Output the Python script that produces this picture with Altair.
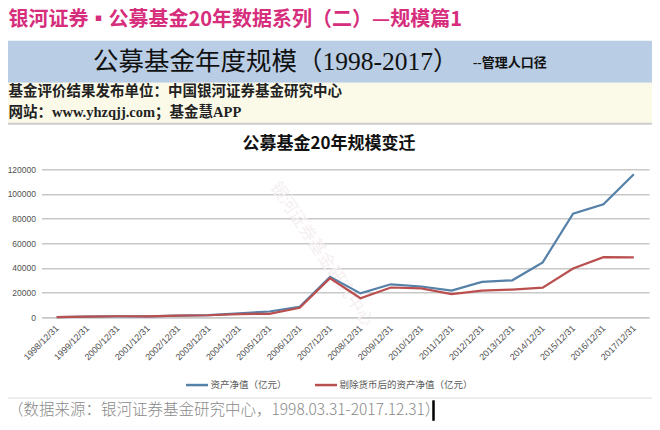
import altair as alt
import pandas as pd

# ---- data (亿元) ----
dates = ["1998/12/31", "1999/12/31", "2000/12/31", "2001/12/31", "2002/12/31",
         "2003/12/31", "2004/12/31", "2005/12/31", "2006/12/31", "2007/12/31",
         "2008/12/31", "2009/12/31", "2010/12/31", "2011/12/31", "2012/12/31",
         "2013/12/31", "2014/12/31", "2015/12/31", "2016/12/31", "2017/12/31"]
nav = [104, 574, 846, 818, 1330, 1715, 3246, 4691, 8565, 32756,
       19389, 26767, 24972, 21680, 28661, 29994, 44521, 83971, 91593, 115996]
nav_ex_mmf = [104, 574, 846, 818, 1330, 1680, 2600, 2823, 7776, 31646,
              15497, 24172, 23439, 18731, 21586, 22518, 24000, 39528, 48753, 48639]
series_names = ["资产净值（亿元）", "剔除货币后的资产净值（亿元）"]
series_colors = ["#5580a8", "#b9504f"]
y_ticks = [0, 20000, 40000, 60000, 80000, 100000, 120000]

top_title = "银河证券▪公募基金20年数据系列（二）—规模篇1"
band_title = "公募基金年度规模（1998-2017）"
band_note = "--管理人口径"
info_line1 = "基金评价结果发布单位：中国银河证券基金研究中心"
info_line2 = "网站：www.yhzqjj.com；基金慧APP"
chart_title = "公募基金20年规模变迁"
watermark = "银河证券基金研究中心"
caption = "（数据来源：银河证券基金研究中心，1998.03.31-2017.12.31）"

rows = []
for name, vals in zip(series_names, [nav, nav_ex_mmf]):
    for d, v in zip(dates, vals):
        rows.append({"date": d, "series": name, "value": v})
df = pd.DataFrame(rows)
one = pd.DataFrame({"k": [0]})

CJK = "Noto Sans CJK SC"
SERIF_CJK = "Liberation Serif, Noto Sans CJK SC"

# plot origin is at page (41.5, 169.3); decorations use offsets from it
def rect(x1, x2, y1, y2, color):
    return alt.Chart(one).mark_rect(color=color).encode(
        x=alt.value(x1), x2=alt.value(x2), y=alt.value(y1), y2=alt.value(y2))

def hline(x1, x2, y, color, w):
    return alt.Chart(one).mark_rule(color=color, strokeWidth=w).encode(
        x=alt.value(x1), x2=alt.value(x2), y=alt.value(y))

def label(txt, x, y, size, color="#111111", weight="normal", align="left",
          font=CJK, angle=0):
    return alt.Chart(one).mark_text(
        text=txt, align=align, baseline="middle", fontSize=size, color=color,
        fontWeight=weight, font=font, angle=angle
    ).encode(x=alt.value(x), y=alt.value(y))

blue_band = rect(-33.5, 612, -128.6, -86.6, "#b9cde4")
cream_band = rect(-33.5, 612, -86.6, -46.3, "#fbfae9")
cream_line = hline(-33.5, 612, -45.6, "#cdcdcd", 2)
bottom_line = hline(-33.5, 612, 228.7, "#e8e8e8", 1.5)

t_top = label(top_title, -33, -149.3, 20, color="#d62d7c", weight="bold")
t_band = label(band_title, 51.5, -107.3, 25.5, font=SERIF_CJK)
t_note = label(band_note, 431.5, -106.3, 13, weight="bold", font=SERIF_CJK)
t_info1 = label(info_line1, -33, -77.0, 14.5, color="#222222", weight="bold",
                font=SERIF_CJK)
t_info2 = label(info_line2, -33, -56.0, 14.5, color="#222222", weight="bold",
                font=SERIF_CJK)
t_chart = label(chart_title, 287.5, -25.3, 17, weight="bold", align="center")
t_wm = label(watermark, 280, 85, 17, color="#f6f0f2", align="center", angle=56)
t_caption = label(caption, -33.5, 240.7, 15.5, color="#8a8a8a", weight=300)
cursor = alt.Chart(one).mark_rule(color="#000000", strokeWidth=2.5).encode(
    x=alt.value(392), y=alt.value(231), y2=alt.value(251.5))

lines = alt.Chart(df).mark_line(strokeWidth=2.2).encode(
    x=alt.X("date:O", sort=dates,
            scale=alt.Scale(type="point", padding=0.5),
            axis=alt.Axis(title=None, labelAngle=-45, labelAlign="right",
                          labelBaseline="middle", labelFontSize=9,
                          labelColor="#505050", labelFont="Liberation Sans",
                          labelPadding=9, ticks=False, domain=True,
                          domainColor="#c8c8c8", domainWidth=1.4, grid=False)),
    y=alt.Y("value:Q", scale=alt.Scale(domain=[0, 120000], nice=False),
            axis=alt.Axis(title=None, values=y_ticks, format="d",
                          labelFontSize=8.5, labelColor="#505050",
                          labelFont="Liberation Sans", labelPadding=6,
                          ticks=False, domain=False, grid=True,
                          gridColor="#c8c8c8", gridWidth=1.4)),
    color=alt.Color("series:N",
                    scale=alt.Scale(domain=series_names, range=series_colors),
                    legend=alt.Legend(title=None, orient="none", legendX=143,
                                      legendY=203, direction="horizontal",
                                      symbolType="stroke", symbolSize=484,
                                      symbolStrokeWidth=2.5,
                                      labelFontSize=9.5, labelColor="#595959",
                                      labelFont=CJK, labelOffset=1,
                                      columnPadding=22)),
)

chart = alt.layer(
    blue_band, cream_band, cream_line, bottom_line,
    t_top, t_band, t_note, t_info1, t_info2, t_chart, t_wm,
    lines, t_caption, cursor
).properties(
    width=607.5, height=148,
    autosize=alt.AutoSizeParams(type="none"),
    padding={"left": 33.5, "top": 161.3, "right": 3, "bottom": 104.7},
    background="white",
).configure_view(strokeWidth=0)

chart.save("out.html", embed_options={"renderer": "svg", "actions": False})
